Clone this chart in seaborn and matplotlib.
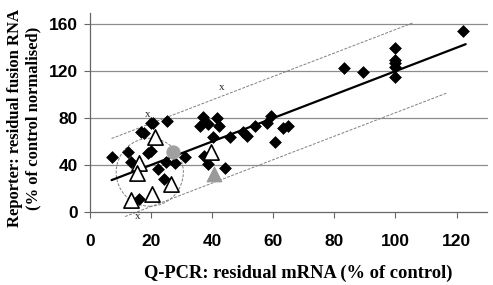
import numpy as np
import pandas as pd
import matplotlib
matplotlib.use("Agg")
import matplotlib.pyplot as plt
from matplotlib.patches import Ellipse
import seaborn as sns

# ---- data ----
diamond_x = [7, 12.4, 13.3, 16.5, 17.6, 19.8, 20.6, 25.2, 19.0, 19.8, 22.3, 24.1, 16.0,
             24.8, 27.7, 31.0, 35.9, 37.0, 38.6, 41.4, 42.2, 40.1, 37.2, 38.6, 44.1,
             45.7, 50.1, 51.2, 53.9, 58.0, 59.1, 60.5, 63.2, 64.8, 83.1, 89.2,
             99.8, 99.8, 99.8, 99.8, 99.8, 122.1]
diamond_y = [47, 50.7, 42.1, 68.3, 66.9, 75.4, 75.4, 77.7, 49.8, 52.0, 36.4, 27.6, 10.6,
             42.7, 41.8, 46.9, 73.1, 80.5, 74.8, 79.7, 73.1, 63.5, 47.5, 40.7, 37.0,
             63.5, 68.3, 64.6, 73.1, 75.9, 81.7, 59.7, 71.7, 73.1, 122.9, 118.9,
             139.9, 129.4, 126.6, 123.7, 115.2, 154.2]
open_tri_x = [21.2, 15.9, 15.2, 13.5, 20.1, 26.3, 39.7]
open_tri_y = [64.0, 41.8, 32.8, 10.0, 14.8, 23.6, 51.2]
gray_tri_x = [40.5]
gray_tri_y = [32.2]
gray_circ_x = [27.2]
gray_circ_y = [51.2]

fit_slope = 1.0
fit_intercept = 20.0
fit_x_range = [7, 123]
upper_offset = 55.5
upper_x_range = [7, 106]
lower_offset = -15.5
lower_x_range = [11.4, 117]
outlier_marks_x = [18.7, 43.2, 15.5]
outlier_marks_y = [83.4, 105.8, -4.3]
ellipse_center = (19.5, 33.7)
ellipse_w, ellipse_h = 22, 58

x_ticks = [0, 20, 40, 60, 80, 100, 120]
y_ticks = [0, 40, 80, 120, 160]
x_label = "Q-PCR: residual mRNA (% of control)"
y_label = "Reporter: residual fusion RNA\n(% of control normalised)"

sns.set_theme(style="white")
plt.rcParams['font.family'] = ['Liberation Sans', 'DejaVu Sans']

fig = plt.figure(figsize=(4.93, 2.85), dpi=100)
ax = fig.add_axes([0.183, 0.257, 0.805, 0.699])

for yv in y_ticks[1:]:
    ax.axhline(yv, color="#8c8c8c", lw=0.9, zorder=0)

# prediction bounds
ux = np.array(upper_x_range)
lx = np.array(lower_x_range)
sns.lineplot(x=ux, y=fit_slope * ux + upper_offset, ax=ax, color="#808080", lw=0.7,
             linestyle=(0, (3, 1.5)), zorder=1)
sns.lineplot(x=lx, y=fit_slope * lx + lower_offset, ax=ax, color="#808080", lw=0.7,
             linestyle=(0, (3, 1.5)), zorder=1)
for ln in ax.lines:
    ln.set_clip_on(False)

ell = Ellipse(ellipse_center, ellipse_w, ellipse_h, fill=False, edgecolor="#808080",
              lw=0.7, linestyle=(0, (3, 1.5)), zorder=1)
ax.add_patch(ell)

# regression line
fx = np.array(fit_x_range)
sns.lineplot(x=fx, y=fit_slope * fx + fit_intercept, ax=ax, color="black", lw=1.6, zorder=3)

sns.scatterplot(x=diamond_x, y=diamond_y, ax=ax, marker="D", s=36, color="black",
                edgecolor="black", linewidth=0.5, zorder=4)
sns.scatterplot(x=open_tri_x, y=open_tri_y, ax=ax, marker="^", s=120, facecolor="white",
                edgecolor="black", linewidth=1.2, zorder=5)
sns.scatterplot(x=gray_tri_x, y=gray_tri_y, ax=ax, marker="^", s=110, color="#999999",
                edgecolor="#999999", zorder=5)
sns.scatterplot(x=gray_circ_x, y=gray_circ_y, ax=ax, marker="o", s=90, color="#a0a0a0",
                edgecolor="#a0a0a0", zorder=5)

for mx, my in zip(outlier_marks_x, outlier_marks_y):
    ax.text(mx, my, "x", ha="center", va="center", fontsize=8,
            family="Liberation Serif", clip_on=False, zorder=6)

ax.set_xlim(0, 130)
ax.set_ylim(0, 170)
ax.set_xticks(x_ticks)
ax.set_yticks(y_ticks)
ax.set_xticklabels([str(t) for t in x_ticks], fontweight="bold", fontsize=12.5, color="black")
ax.set_yticklabels([str(t) for t in y_ticks], fontweight="bold", fontsize=12.5, color="black")
ax.tick_params(axis="both", direction="out", length=4, width=0.8, color="#666666",
               bottom=True, left=True)
ax.tick_params(axis="x", pad=12)
ax.tick_params(axis="y", pad=5)
for s in ["top", "right"]:
    ax.spines[s].set_visible(False)
for s in ["left", "bottom"]:
    ax.spines[s].set_color("#666666")
    ax.spines[s].set_linewidth(0.9)

ax.set_xlabel(x_label, family="Liberation Serif", fontweight="bold", fontsize=13.3,
              color="black")
ax.set_ylabel(y_label, family="Liberation Serif", fontweight="bold", fontsize=12,
              color="black", linespacing=1.2)
ax.xaxis.set_label_coords(0.523, -0.268)
ax.yaxis.set_label_coords(-0.122, 0.47)

fig.savefig("out.png", dpi=100)
